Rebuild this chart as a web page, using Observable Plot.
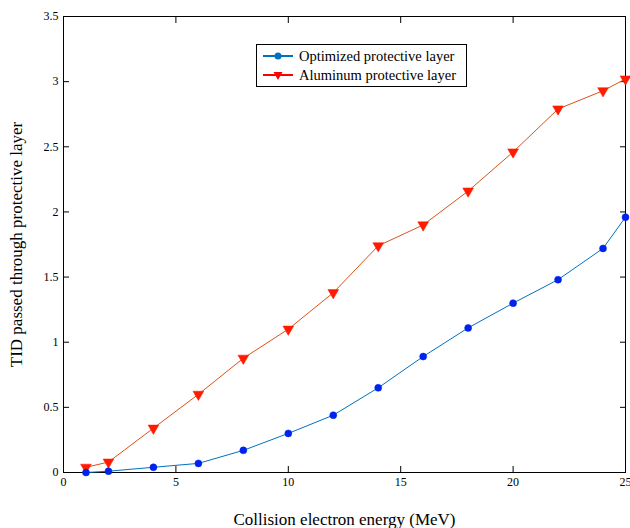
<!DOCTYPE html>
<html><head><meta charset="utf-8">
<script src="https://cdn.jsdelivr.net/npm/d3@7"></script>
<script src="https://cdn.jsdelivr.net/npm/@observablehq/plot@0.6"></script>
<style>
body{margin:0;background:#fff;}
#wrap{position:relative;width:630px;height:528px;font-family:"Liberation Serif","Times New Roman",serif;}
#wrap svg, #wrap svg text{font-family:"Liberation Serif","Times New Roman",serif !important;}
#legend{position:absolute;left:256px;top:44px;width:211px;height:43px;border:1px solid #000;background:#fff;font-size:14.5px;line-height:19px;padding-top:2px;box-sizing:border-box;}
#legend div{display:flex;align-items:center;height:19px;}
#legend svg{margin-left:6px;margin-right:6px;}
</style></head>
<body><div id="wrap"><div id="legend"></div></div>
<script>
const energy = [1, 2, 4, 6, 8, 10, 12, 14, 16, 18, 20, 22, 24, 25];
const optimized = [0.00, 0.01, 0.04, 0.07, 0.17, 0.30, 0.44, 0.65, 0.89, 1.11, 1.30, 1.48, 1.72, 1.96];
const aluminum = [0.04, 0.08, 0.34, 0.60, 0.877, 1.10, 1.38, 1.74, 1.90, 2.16, 2.46, 2.79, 2.93, 3.02];
const xTicks = [0, 5, 10, 15, 20, 25];
const yTicks = [0, 0.5, 1, 1.5, 2, 2.5, 3, 3.5];
const seriesNames = ["Optimized protective layer", "Aluminum protective layer"];

const optData = energy.map((e, i) => ({e, v: optimized[i]}));
const alData = energy.map((e, i) => ({e, v: aluminum[i]}));
const fmt = d => String(d);

const chart = Plot.plot({
  width: 630, height: 528,
  marginLeft: 63, marginRight: 5, marginTop: 16, marginBottom: 56,
  style: {fontFamily: "'Liberation Serif', 'Times New Roman', serif", fontSize: "12px", color: "#000", background: "#fff"},
  x: {domain: [0, 25]},
  y: {domain: [0, 3.5]},
  marks: [
    Plot.frame({stroke: "#000", strokeWidth: 1}),
    Plot.axisX(xTicks, {anchor: "bottom", tickSize: 0, tickPadding: 5, fontSize: 12, tickFormat: fmt, label: "Collision electron energy (MeV)", labelAnchor: "center", labelArrow: "none", labelOffset: 52}),
    Plot.axisX(xTicks, {anchor: "bottom", tickSize: -6, tickFormat: () => "", label: null}),
    Plot.axisX(xTicks, {anchor: "top", tickSize: -6, tickFormat: () => "", label: null}),
    Plot.axisY(yTicks, {anchor: "left", tickSize: 0, tickPadding: 5, fontSize: 12, tickFormat: fmt, label: "TID passed through protective layer", labelAnchor: "center", labelArrow: "none", labelOffset: 54}),
    Plot.axisY(yTicks, {anchor: "left", tickSize: -6, tickFormat: () => "", label: null}),
    Plot.axisY(yTicks, {anchor: "right", tickSize: -6, tickFormat: () => "", label: null}),
    Plot.line(alData, {x: "e", y: "v", stroke: "#D95319", strokeWidth: 1}),
    Plot.dot(alData, {x: "e", y: "v", symbol: "triangle", rotate: 180, r: 4, fill: "#ff1a00", stroke: "#ff1a00", strokeWidth: 0.5}),
    Plot.line(optData, {x: "e", y: "v", stroke: "#0072BD", strokeWidth: 1}),
    Plot.dot(optData, {x: "e", y: "v", r: 3.5, fill: "#0022ee", stroke: "#0022ee", strokeWidth: 0.5})
  ]
});
const wrap = document.getElementById("wrap");
wrap.insertBefore(chart, wrap.firstChild);
chart.querySelectorAll("[aria-label='x-axis label'] text, [aria-label='y-axis label'] text").forEach(t => t.setAttribute("font-size", "17px"));
chart.querySelectorAll("[aria-label='x-axis label'], [aria-label='y-axis label']").forEach(g => g.setAttribute("font-size", "17px"));

const leg = document.getElementById("legend");
const items = [
  {name: seriesNames[0], line: "#0072BD", sym: '<circle cx="15" cy="5" r="3.5" fill="#0072BD"/>'},
  {name: seriesNames[1], line: "#ff0000", sym: '<path d="M10.5,2 L19.5,2 L15,10 Z" fill="#ff0000"/>'}
];
items.forEach(it => {
  const d = document.createElement("div");
  d.innerHTML = `<svg width="30" height="11"><line x1="0" y1="5" x2="30" y2="5" stroke="${it.line}" stroke-width="2"/>${it.sym}</svg><span>${it.name}</span>`;
  leg.appendChild(d);
});
</script></body></html>
